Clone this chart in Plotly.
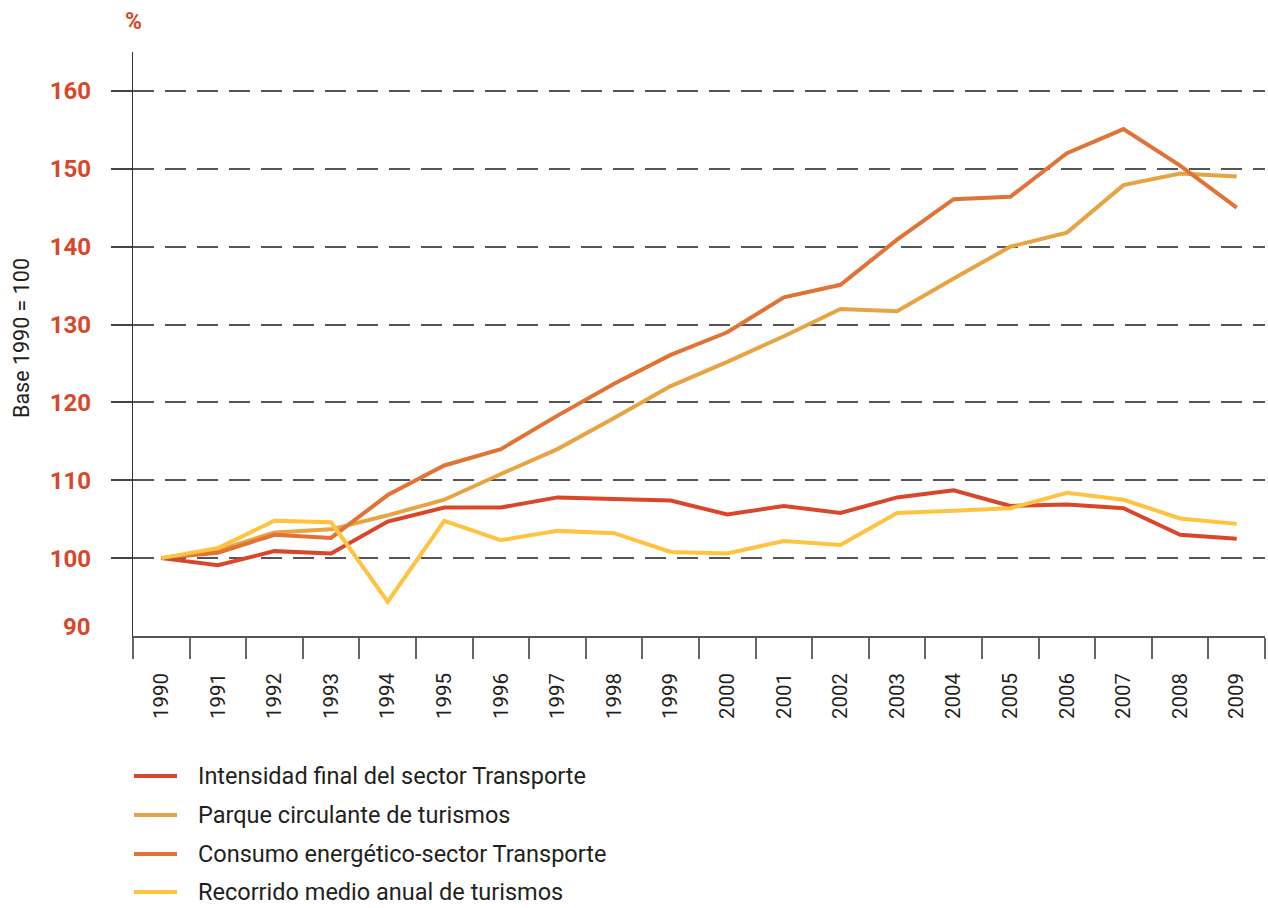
import plotly.graph_objects as go

# Índices base 1990 = 100
years = [str(y) for y in range(1990, 2010)]

intensidad = [100.0, 99.1, 100.9, 100.6, 104.7, 106.5, 106.5, 107.8, 107.6, 107.4,
              105.6, 106.7, 105.8, 107.8, 108.7, 106.7, 106.9, 106.4, 103.0, 102.5]
parque = [100.0, 101.0, 103.3, 103.7, 105.5, 107.5, 110.8, 114.0, 118.0, 122.1,
          125.2, 128.5, 132.0, 131.7, 135.9, 140.0, 141.8, 147.9, 149.4, 149.0]
consumo = [100.0, 100.7, 103.0, 102.6, 108.1, 111.9, 114.0, 118.3, 122.4, 126.1,
           129.0, 133.5, 135.1, 140.9, 146.1, 146.4, 152.0, 155.1, 150.4, 145.0]
recorrido = [100.0, 101.3, 104.8, 104.6, 94.4, 104.8, 102.3, 103.5, 103.2, 100.8,
             100.6, 102.2, 101.7, 105.8, 106.1, 106.4, 108.4, 107.5, 105.1, 104.4]

y_ticks = [100, 110, 120, 130, 140, 150, 160]

series_names = [
    "Intensidad final del sector Transporte",
    "Parque circulante de turismos",
    "Consumo energético-sector Transporte",
    "Recorrido medio anual de turismos",
]
series_values = [intensidad, parque, consumo, recorrido]
series_colors = ["#D9472B", "#E8A343", "#E07335", "#FFC33F"]
draw_order = [1, 2, 0, 3]

RED = "#D9472B"
TEXT = "#231F20"

W, H = 1268, 908
ML, MR, MT, MB = 133, 3, 52, 272
PW, PH = W - ML - MR, H - MT - MB


def paper_x(px):
    return (px - ML) / PW


def paper_y(py):
    return (H - MB - py) / PH


fig = go.Figure()
for i in draw_order:
    fig.add_trace(go.Scatter(
        x=years, y=series_values[i], mode="lines", name=series_names[i],
        line=dict(color=series_colors[i], width=4), showlegend=False,
        hoverinfo="x+y+name",
    ))

annotations = [
    dict(text="<b>%</b>", x=paper_x(133), y=paper_y(22), xref="paper", yref="paper",
         showarrow=False, font=dict(family="Roboto", size=23, color=RED),
         xanchor="center", yanchor="middle"),
    dict(text="Base 1990 = 100", x=paper_x(21), y=paper_y(338), xref="paper", yref="paper",
         showarrow=False, textangle=-90, font=dict(family="Roboto", size=21.5, color=TEXT),
         xanchor="center", yanchor="middle"),
    dict(text="<b>90</b>", x=paper_x(93), y=paper_y(627), xref="paper", yref="paper",
         showarrow=False, font=dict(family="Roboto", size=24, color=RED),
         xanchor="right", yanchor="middle"),
]

# Leyenda dibujada a mano: trazo corto + texto
shapes = []
legend_rows = [776, 815, 854, 892]
for name, color, row in zip(series_names, series_colors, legend_rows):
    shapes.append(dict(type="line", xref="paper", yref="paper",
                       x0=paper_x(134), x1=paper_x(177), y0=paper_y(row), y1=paper_y(row),
                       line=dict(color=color, width=4)))
    annotations.append(dict(text=name, x=paper_x(197), y=paper_y(row), xref="paper",
                            yref="paper", showarrow=False, xanchor="left", yanchor="middle",
                            borderpad=0,
                            font=dict(family="Roboto", size=23.5, color=TEXT)))

fig.update_layout(
    width=W, height=H, autosize=False,
    margin=dict(l=ML, r=MR, t=MT, b=MB),
    paper_bgcolor="white", plot_bgcolor="white",
    annotations=annotations, shapes=shapes,
    showlegend=False,
)

fig.update_xaxes(
    type="category", range=[-0.5, 19.5], tickson="boundaries",
    ticks="outside", ticklen=21, tickwidth=1.5, tickcolor="#666",
    showline=True, linecolor="#555", linewidth=1.5,
    showgrid=False, zeroline=False,
    tickangle=-90, ticklabelstandoff=27,
    tickfont=dict(family="Roboto", size=20.5, color=TEXT),
)

fig.update_yaxes(
    range=[90, 165], tickmode="array", tickvals=y_ticks,
    ticktext=[f"<b>{v}</b>" for v in y_ticks],
    ticks="outside", ticklen=21, tickwidth=1.5, tickcolor="#444",
    ticklabelstandoff=15,
    showline=True, linecolor="#333", linewidth=1.2,
    showgrid=True, gridcolor="#555", gridwidth=1.5, griddash="21px,11px",
    zeroline=False,
    tickfont=dict(family="Roboto", size=24, color=RED),
)

fig.write_html("out.html")
